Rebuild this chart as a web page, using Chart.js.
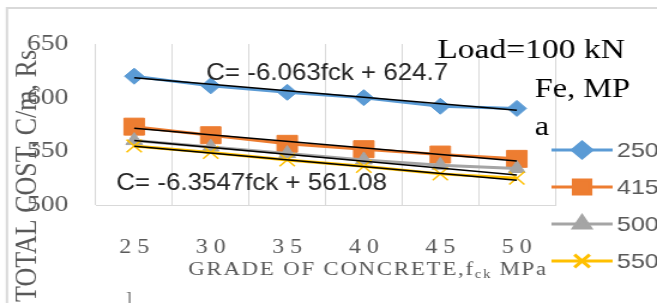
<!DOCTYPE html>
<html>
<head>
<meta charset="utf-8">
<script src="https://cdn.jsdelivr.net/npm/chart.js@4"></script>
<style>
  html, body { margin: 0; padding: 0; background: #fff; overflow: hidden; }
  #chartCost { display: block; }
</style>
</head>
<body>
<!-- canvas drawn narrower and stretched sideways, like the original picture -->
<canvas id="chartCost" width="548" height="303" style="width:657px;height:303px"></canvas>
<script>
// Datos
const grades = [25, 30, 35, 40, 45, 50];
const gradeTickLabels = ['2 5', '3 0', '3 5', '4 0', '4 5', '5 0'];
const steelGrades = ['250', '415', '500', '550'];

const cost250 = [620, 611, 605, 600, 592, 590];
const cost415 = [573, 565, 557, 552, 547, 543];
const cost500 = [560, 554, 548, 542, 537, 534];
const cost550 = [555, 549, 542, 536, 529, 525];

// lineas de tendencia (extremos)
const trend250 = [618.6, null, null, null, null, 588.3];
const trend415 = [571.5, null, null, null, null, 541];
const trend500 = [560, null, null, null, null, 528];
const trend550 = [554.7, null, null, null, null, 523];

const yTicks = { min: 500, max: 650, step: 50 };

const chartTitle = 'Load=100 kN';
const legendTitle = ['Fe, MP', 'a'];
const eqTop = 'C= -6.063fck + 624.7';
const eqBottom = 'C= -6.3547fck + 561.08';

const SERIF = "'Liberation Serif', 'Times New Roman', serif";
const SANS = "'Liberation Sans', Arial, sans-serif";
const GREY = '#595959';

function seriesDataset(label, data, color, style, radius, order) {
  return {
    label: label,
    data: data,
    borderColor: color,
    backgroundColor: color,
    borderWidth: 3,
    pointStyle: style,
    pointRadius: radius,
    pointBorderWidth: style === 'crossRot' ? 1.5 : 1,
    pointBackgroundColor: color,
    pointBorderColor: color,
    tension: 0,
    order: order
  };
}

function trendDataset(data) {
  return {
    label: 'trend',
    data: data,
    borderColor: '#000',
    borderWidth: 1.5,
    pointRadius: 0,
    spanGaps: true,
    order: 1
  };
}

const seriesSets = [
  seriesDataset(steelGrades[0], cost250, '#5B9BD5', 'rectRot', 8, 5),
  seriesDataset(steelGrades[1], cost415, '#ED7D31', 'rect', 12, 4),
  seriesDataset(steelGrades[2], cost500, '#A5A5A5', 'triangle', 8, 3),
  seriesDataset(steelGrades[3], cost550, '#FFC000', 'crossRot', 9, 2)
];

// texto comprimido a lo ancho (fuente tipo Calibri)
function narrowText(ctx, text, x, y, squeeze) {
  ctx.save();
  ctx.translate(x, y);
  ctx.scale(squeeze, 1);
  ctx.fillText(text, 0, 0);
  ctx.restore();
}

// Plugin para textos, marco y leyenda
const decorPlugin = {
  id: 'decor',
  beforeDraw(chart) {
    const ctx = chart.ctx;
    ctx.save();
    ctx.fillStyle = '#fff';
    ctx.fillRect(0, 0, chart.width, chart.height);
    ctx.strokeStyle = '#d9d9d9';
    ctx.lineWidth = 2;
    ctx.beginPath();
    ctx.moveTo(5.8, chart.height);
    ctx.lineTo(5.8, 8);
    ctx.lineTo(chart.width, 8);
    ctx.stroke();
    ctx.restore();
  },
  afterDraw(chart) {
    const ctx = chart.ctx;
    ctx.save();

    // titulo
    ctx.fillStyle = '#000';
    ctx.font = '28px ' + SERIF;
    ctx.textAlign = 'center';
    ctx.textBaseline = 'alphabetic';
    ctx.fillText(chartTitle, 443, 58);

    // titulo de la leyenda
    ctx.textAlign = 'left';
    ctx.font = '27px ' + SERIF;
    ctx.fillText(legendTitle[0], 446, 97);
    ctx.fillText(legendTitle[1], 446, 135);

    // ecuaciones
    ctx.fillStyle = '#262626';
    ctx.font = '24px ' + SANS;
    narrowText(ctx, eqTop, 172, 80, 0.9);
    narrowText(ctx, eqBottom, 97, 190, 0.9);

    // titulo eje x con subindice
    ctx.fillStyle = GREY;
    ctx.letterSpacing = '1.5px';
    ctx.font = '19px ' + SERIF;
    let x = 157;
    const base = 275;
    const part1 = 'GRADE OF CONCRETE,f';
    ctx.fillText(part1, x, base);
    x += ctx.measureText(part1).width;
    ctx.font = '12px ' + SERIF;
    ctx.fillText('ck', x, base + 3);
    x += ctx.measureText('ck').width;
    ctx.font = '19px ' + SERIF;
    ctx.fillText(' MPa', x, base);
    ctx.letterSpacing = '0px';

    // titulo eje y
    ctx.save();
    ctx.translate(30, 50);
    ctx.rotate(-Math.PI / 2);
    ctx.textAlign = 'right';
    ctx.font = '26px ' + SERIF;
    ctx.fillText('TOTAL COST, C/m, Rs', 0, 0);
    ctx.restore();

    // pequena marca bajo el eje
    ctx.font = '14px ' + SERIF;
    ctx.fillText(']', 105, 302);

    // leyenda
    const rows = [150, 187, 224, 261];
    seriesSets.forEach((ds, i) => {
      const y = rows[i];
      ctx.strokeStyle = ds.borderColor;
      ctx.lineWidth = 3;
      ctx.beginPath();
      ctx.moveTo(460, y);
      ctx.lineTo(511, y);
      ctx.stroke();
      ctx.fillStyle = ds.backgroundColor;
      if (Chart.helpers && Chart.helpers.drawPoint) {
        Chart.helpers.drawPoint(ctx, {
          pointStyle: ds.pointStyle,
          radius: ds.pointStyle === 'rect' ? 10 : ds.pointRadius,
          borderWidth: ds.pointBorderWidth,
          rotation: 0
        }, 485.5, y);
      }
      ctx.fillStyle = GREY;
      ctx.font = '21px ' + SANS;
      ctx.textBaseline = 'middle';
      ctx.fillText(ds.label, 514.5, y + 1);
      ctx.textBaseline = 'alphabetic';
    });

    ctx.restore();
  }
};

const ctx = document.getElementById('chartCost').getContext('2d');
const chart = new Chart(ctx, {
  type: 'line',
  data: {
    labels: gradeTickLabels,
    datasets: seriesSets.concat([
      trendDataset(trend250),
      trendDataset(trend415),
      trendDataset(trend500),
      trendDataset(trend550)
    ])
  },
  options: {
    responsive: false,
    devicePixelRatio: 1,
    animation: false,
    layout: { padding: { top: 44, right: 85, bottom: 0, left: 0 } },
    plugins: {
      legend: { display: false },
      tooltip: { enabled: false }
    },
    scales: {
      x: {
        offset: true,
        grid: { display: true, color: '#d9d9d9', lineWidth: 1, offset: true, drawTicks: false },
        border: { display: true, color: '#d9d9d9', width: 1 },
        ticks: {
          color: GREY,
          font: { family: SERIF, size: 20 },
          padding: 31,
          maxRotation: 0,
          autoSkip: false
        },
        afterFit(scale) { scale.height = 98; }
      },
      y: {
        min: yTicks.min,
        max: yTicks.max,
        grid: { display: false, drawTicks: false },
        border: { display: false },
        ticks: {
          stepSize: yTicks.step,
          color: GREY,
          font: { family: SERIF, size: 23 },
          padding: 23
        },
        afterFit(scale) { scale.width = 80; }
      }
    }
  },
  plugins: [decorPlugin]
});
</script>
</body>
</html>
